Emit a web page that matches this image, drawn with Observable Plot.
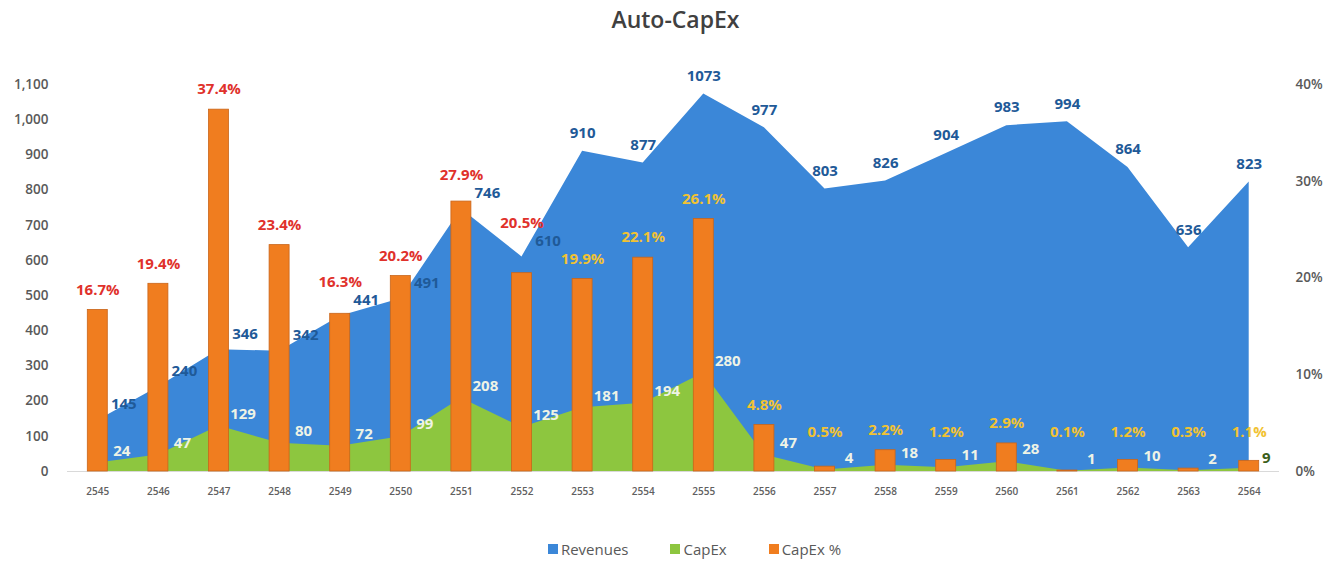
<!DOCTYPE html>
<html><head><meta charset="utf-8">
<script src="https://cdn.jsdelivr.net/npm/d3@7"></script>
<script src="https://cdn.jsdelivr.net/npm/@observablehq/plot@0.6"></script>
<style>
body{margin:0;background:#fff;font-family:"Open Sans",sans-serif;}
#title{height:40px;line-height:38px;text-align:center;font-size:23px;font-weight:600;color:#404040;padding-left:10px}
#legend{display:flex;justify-content:center;gap:42px;margin-top:28px;font-size:15px;color:#595959;padding-left:48px;line-height:20px}
#legend span.item{display:flex;align-items:center}
#legend span.sw{display:inline-block;width:10px;height:10px;margin-right:3px}
</style></head><body>
<div id="title">Auto-CapEx</div>
<div id="chart"></div>
<div id="legend"></div>
<script>
const years = [2545,2546,2547,2548,2549,2550,2551,2552,2553,2554,2555,2556,2557,2558,2559,2560,2561,2562,2563,2564];
const revenues = [145,240,346,342,441,491,746,610,910,877,1073,977,803,826,904,983,994,864,636,823];
const capex = [24,47,129,80,72,99,208,125,181,194,280,47,4,18,11,28,1,10,2,9];
const capexPct = [16.7,19.4,37.4,23.4,16.3,20.2,27.9,20.5,19.9,22.1,26.1,4.8,0.5,2.2,1.2,2.9,0.1,1.2,0.3,1.1];
const leftTicks = [0,100,200,300,400,500,600,700,800,900,1000,1100];
const pctTicks = [0,10,20,30,40];
const seriesNames = ["Revenues","CapEx","CapEx %"];
const seriesColors = ["#3b87d8","#8dc63f","#f07d1f"];

const Y_MAX = 1100, PCT_MAX = 40;
const pctToY = p => p * Y_MAX / PCT_MAX;
const marginTop = 44, marginBottom = 40, height = 471;
const unitsPerPx = Y_MAX / (height - marginTop - marginBottom);

// label placement rules (in data units, derived from pixel offsets)
const REV_DY = 16, PCT_DY = 20, MIN_PCT = 2;
const rows = years.map((year, i) => {
  const rev = revenues[i], cap = capex[i], pct = capexPct[i];
  let pctLabelY = pctToY(Math.max(pct, MIN_PCT)) + PCT_DY * unitsPerPx;
  if (i < 8) {
    const revLabelY = rev + REV_DY * unitsPerPx;
    if (Math.abs(pctLabelY - revLabelY) < 16 * unitsPerPx) pctLabelY = revLabelY + 18 * unitsPerPx;
  }
  return {year, rev, cap, pct, i, pctLabelY};
});
const [blue, green, orange] = seriesColors;
const lblFont = {fontSize: 15, fontWeight: 700, fontFamily: "Open Sans"};

const chart = Plot.plot({
  width: 1341, height,
  marginTop, marginBottom, marginLeft: 67, marginRight: 62,
  style: {fontFamily: "Open Sans", background: "transparent", overflow: "visible"},
  x: {type: "linear", domain: [2544.5, 2564.5]},
  y: {domain: [0, Y_MAX]},
  marks: [
    Plot.areaY(rows, {x: "year", y: "rev", fill: blue}),
    Plot.areaY(rows, {x: "year", y: "cap", fill: green}),
    Plot.ruleY([0], {stroke: "#d9d9d9", strokeWidth: 1}),
    Plot.rectY(rows, {x1: d => d.year - 0.165, x2: d => d.year + 0.165, y1: 0, y2: d => pctToY(d.pct), fill: orange, stroke: "#c9651a", strokeWidth: 0.8}),
    Plot.axisY({ticks: leftTicks, tickFormat: d3.format(","), tickSize: 0, tickPadding: 19, fontSize: 13.5, fontWeight: 600, color: "#595959", label: null}),
    Plot.axisY({anchor: "right", ticks: pctTicks.map(pctToY), tickFormat: d => Math.round(d * PCT_MAX / Y_MAX) + "%", tickSize: 0, tickPadding: 16, fontSize: 13.5, fontWeight: 600, color: "#595959", label: null}),
    Plot.axisX({ticks: years, tickFormat: d => String(d), tickSize: 0, tickPadding: 16, fontSize: 10, fontWeight: 600, color: "#606060", label: null}),
    // Revenue labels
    Plot.text(rows, {filter: d => d.i < 8, x: "year", y: "rev", text: d => String(d.rev), dx: 26, dy: -REV_DY, fill: "#1f5a98", ...lblFont}),
    Plot.text(rows, {filter: d => d.i >= 8, x: "year", y: "rev", text: d => String(d.rev), dy: -18, fill: "#1f5a98", ...lblFont}),
    // CapEx labels
    Plot.text(rows, {filter: d => d.i < 19, x: "year", y: "cap", text: d => String(d.cap), dx: 24, dy: -12, fill: "#eef3e6", ...lblFont}),
    Plot.text(rows, {filter: d => d.i === 19, x: "year", y: "cap", text: d => String(d.cap), dx: 17, dy: -10, fill: "#3b5e1a", ...lblFont}),
    // CapEx % labels
    Plot.text(rows, {filter: d => d.i < 8, x: "year", y: "pctLabelY", text: d => d.pct.toFixed(1) + "%", fill: "#e0312b", ...lblFont}),
    Plot.text(rows, {filter: d => d.i >= 8, x: "year", y: "pctLabelY", text: d => d.pct.toFixed(1) + "%", fill: "#f1c232", ...lblFont})
  ]
});
document.getElementById("chart").append(chart);

const legend = document.getElementById("legend");
seriesNames.forEach((name, k) => {
  const item = document.createElement("span");
  item.className = "item";
  const sw = document.createElement("span");
  sw.className = "sw";
  sw.style.background = seriesColors[k];
  item.append(sw, document.createTextNode(name));
  legend.append(item);
});
</script>
</body></html>
